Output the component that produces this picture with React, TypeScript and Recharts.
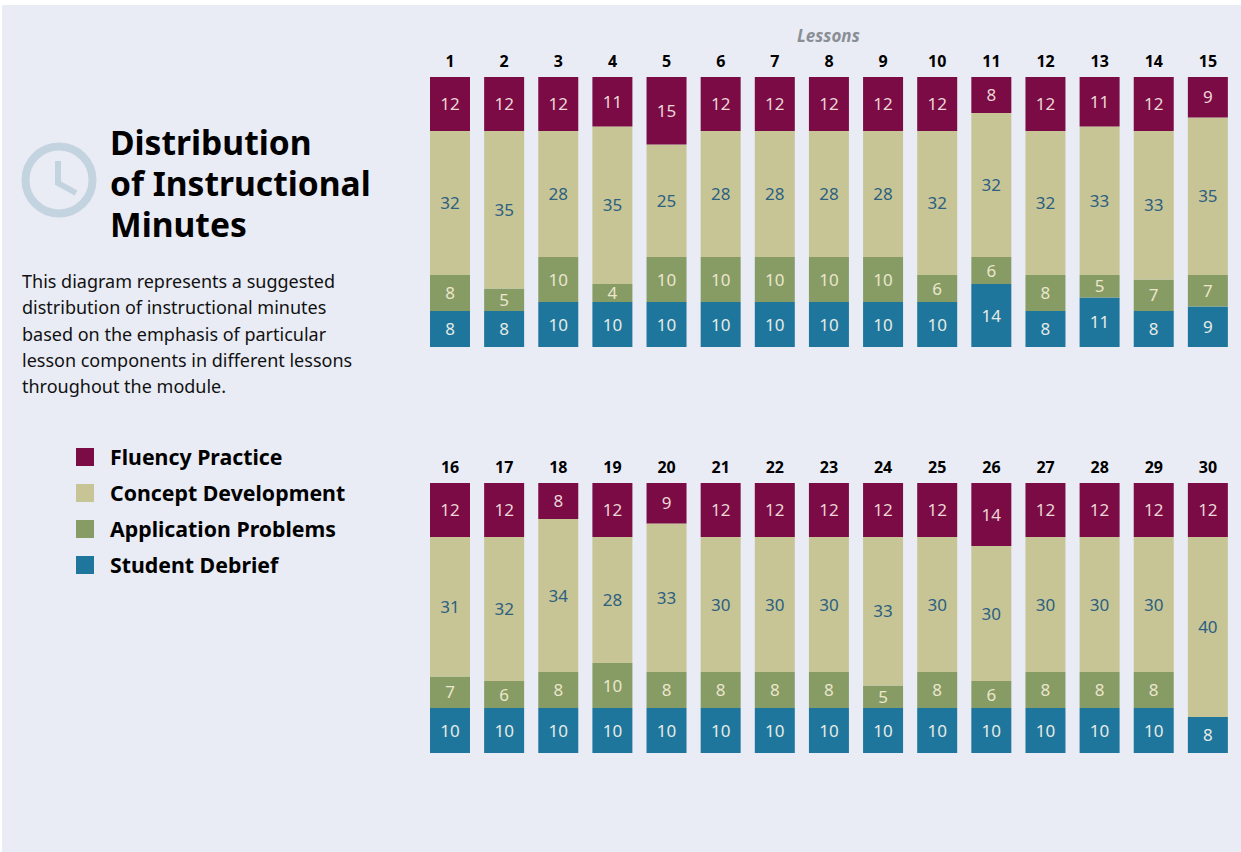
import { BarChart, Bar, XAxis, YAxis, LabelList } from 'recharts'

const topLessons = ['1', '2', '3', '4', '5', '6', '7', '8', '9', '10', '11', '12', '13', '14', '15']
const topFluency = [12, 12, 12, 11, 15, 12, 12, 12, 12, 12, 8, 12, 11, 12, 9]
const topConcept = [32, 35, 28, 35, 25, 28, 28, 28, 28, 32, 32, 32, 33, 33, 35]
const topApplication = [8, 5, 10, 4, 10, 10, 10, 10, 10, 6, 6, 8, 5, 7, 7]
const topDebrief = [8, 8, 10, 10, 10, 10, 10, 10, 10, 10, 14, 8, 11, 8, 9]

const bottomLessons = ['16', '17', '18', '19', '20', '21', '22', '23', '24', '25', '26', '27', '28', '29', '30']
const bottomFluency = [12, 12, 8, 12, 9, 12, 12, 12, 12, 12, 14, 12, 12, 12, 12]
const bottomConcept = [31, 32, 34, 28, 33, 30, 30, 30, 33, 30, 30, 30, 30, 30, 40]
const bottomApplication = [7, 6, 8, 10, 8, 8, 8, 8, 5, 8, 6, 8, 8, 8, 0]
const bottomDebrief = [10, 10, 10, 10, 10, 10, 10, 10, 10, 10, 10, 10, 10, 10, 8]

const legendNames = ['Fluency Practice', 'Concept Development', 'Application Problems', 'Student Debrief']
const legendColors = ['#7b0b45', '#c7c596', '#879c65', '#1f769c']
const descriptionLines = [
  'This diagram represents a suggested',
  'distribution of instructional minutes',
  'based on the emphasis of particular',
  'lesson components in different lessons',
  'throughout the module.',
]
const titleLines = ['Distribution', 'of Instructional', 'Minutes']

const FONT = '"Noto Sans", "Open Sans", sans-serif'

// stacked bottom to top, so the legend order is reversed here
const stackOrder = [
  { key: 'debrief', fill: legendColors[3], label: '#e6ebe6' },
  { key: 'application', fill: legendColors[2], label: '#ebe6cc' },
  { key: 'concept', fill: legendColors[1], label: '#2c5f80' },
  { key: 'fluency', fill: legendColors[0], label: '#ecd6d6' },
]

function buildRows(lessons: string[], fluency: number[], concept: number[], application: number[], debrief: number[]) {
  return lessons.map((lesson, i) => ({
    lesson,
    fluency: fluency[i],
    concept: concept[i],
    application: application[i],
    debrief: debrief[i],
  }))
}

const hideZero = (v: any) => (v ? v : '')

function LessonChart({ data, top }: { data: any[]; top: number }) {
  return (
    <div style={{ position: 'absolute', left: 423, top }}>
      <BarChart width={812} height={312} data={data} barCategoryGap={7} margin={{ top: 0, right: 0, bottom: 10, left: 0 }}>
        <XAxis
          dataKey="lesson"
          orientation="top"
          axisLine={false}
          tickLine={false}
          interval={0}
          height={32}
          tickMargin={4}
          tick={{ fontSize: 16, fontWeight: 700, fill: '#000', fontFamily: FONT }}
        />
        <YAxis hide domain={[0, 60]} />
        {stackOrder.map(s => (
          <Bar key={s.key} dataKey={s.key} stackId="a" fill={s.fill} isAnimationActive={false}>
            <LabelList dataKey={s.key} position="center" formatter={hideZero} fill={s.label} fontSize={17} fontFamily={FONT} />
          </Bar>
        ))}
      </BarChart>
    </div>
  )
}

export default function App() {
  const topData = buildRows(topLessons, topFluency, topConcept, topApplication, topDebrief)
  const bottomData = buildRows(bottomLessons, bottomFluency, bottomConcept, bottomApplication, bottomDebrief)

  return (
    <div style={{ position: 'absolute', left: 0, top: 0, width: 1241, height: 852, background: '#fff', overflow: 'hidden', fontFamily: FONT }}>
      <div style={{ position: 'absolute', left: 2, top: 5, width: 1239, height: 847, background: '#e9ecf5' }} />

      <svg style={{ position: 'absolute', left: 15, top: 136 }} width={90} height={90}>
        <circle cx={44} cy={44} r={33.5} fill="none" stroke="#c3d4e0" strokeWidth={8} />
        <path d="M43 25 L43 47 L61 57" fill="none" stroke="#c3d4e0" strokeWidth={6} />
      </svg>

      <div style={{ position: 'absolute', left: 110, top: 122, fontSize: 33.6, fontWeight: 700, lineHeight: '41px', color: '#000' }}>
        {titleLines.map(t => <div key={t}>{t}</div>)}
      </div>

      <div style={{ position: 'absolute', left: 22, top: 268, fontSize: 18, lineHeight: '26.3px', color: '#111', whiteSpace: 'nowrap' }}>
        {descriptionLines.map(t => <div key={t}>{t}</div>)}
      </div>

      {legendNames.map((name, i) => (
        <div key={name} style={{ position: 'absolute', left: 76, top: 448 + i * 36, height: 18, display: 'flex', alignItems: 'center' }}>
          <div style={{ width: 18, height: 18, background: legendColors[i], marginRight: 16 }} />
          <div style={{ position: 'relative', top: -1, fontSize: 21.3, fontWeight: 700, color: '#000', whiteSpace: 'nowrap' }}>{name}</div>
        </div>
      ))}

      <div style={{ position: 'absolute', left: 797, top: 24, fontSize: 17, fontWeight: 700, fontStyle: 'italic', color: '#8a8f96' }}>Lessons</div>

      <LessonChart data={topData} top={45} />
      <LessonChart data={bottomData} top={451} />
    </div>
  )
}
